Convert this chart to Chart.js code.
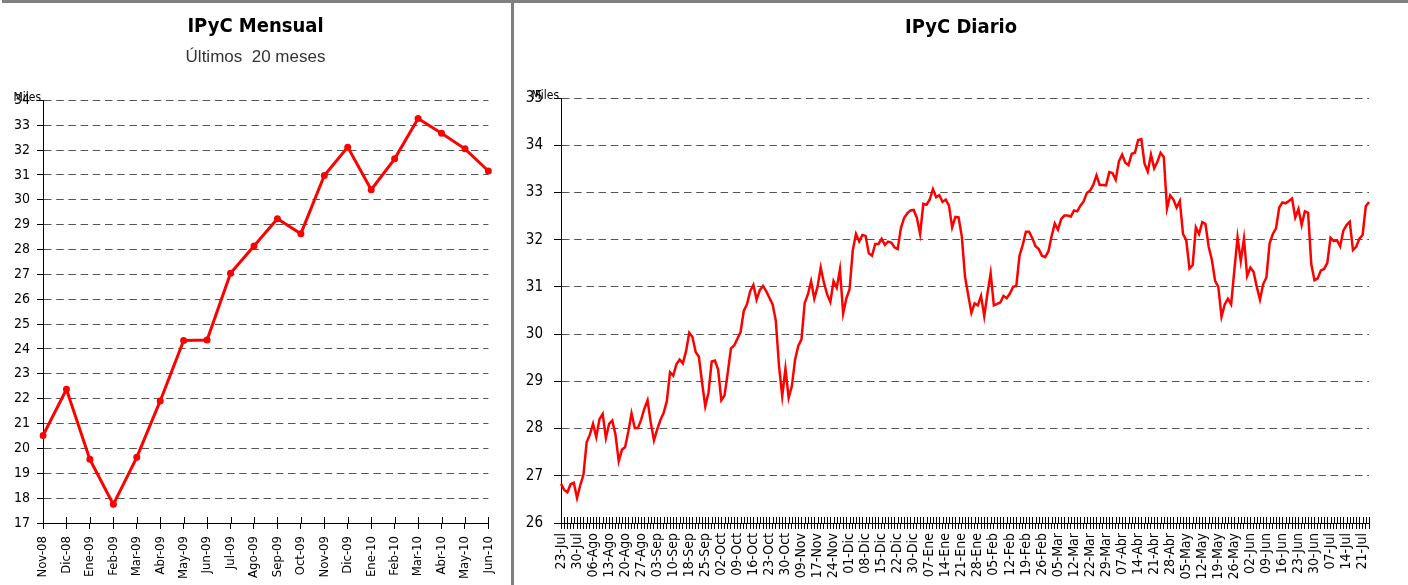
<!DOCTYPE html>
<html>
<head>
<meta charset="utf-8">
<script src="https://cdn.jsdelivr.net/npm/chart.js@4.4.0/dist/chart.umd.min.js"></script>
<style>
  html, body { margin: 0; padding: 0; background: #fff; }
  body { width: 1408px; height: 585px; position: relative; overflow: hidden; }
  #topBar { position: absolute; left: 2px; top: 0; width: 1406px; height: 3px; background: #808080; }
  #divider { position: absolute; left: 511px; top: 0; width: 3px; height: 585px; background: #808080; }
  #leftBox { position: absolute; left: 0; top: 0; width: 511px; height: 585px; }
  #rightBox { position: absolute; left: 514px; top: 0; width: 894px; height: 585px; }
</style>
</head>
<body>
<div id="leftBox"><canvas id="monthly"></canvas></div>
<div id="rightBox"><canvas id="daily"></canvas></div>
<div id="topBar"></div>
<div id="divider"></div>
<script>
// IPyC mensual (miles de puntos), ultimos 20 meses
var monthLabels = ['Nov-08', 'Dic-08', 'Ene-09', 'Feb-09', 'Mar-09', 'Abr-09', 'May-09', 'Jun-09', 'Jul-09', 'Ago-09',
                   'Sep-09', 'Oct-09', 'Nov-09', 'Dic-09', 'Ene-10', 'Feb-10', 'Mar-10', 'Abr-10', 'May-10', 'Jun-10'];
var monthValues = [20.52, 22.38, 19.56, 17.75, 19.64, 21.91, 24.34, 24.36, 27.05, 28.14,
                   29.24, 28.64, 30.98, 32.12, 30.41, 31.65, 33.27, 32.68, 32.05, 31.16];

// IPyC diario: una etiqueta cada 5 dias habiles
var weekLabels = ['23-Jul', '30-Jul', '06-Ago', '13-Ago', '20-Ago', '27-Ago', '03-Sep', '10-Sep', '18-Sep', '25-Sep',
                  '02-Oct', '09-Oct', '16-Oct', '23-Oct', '30-Oct', '09-Nov', '17-Nov', '24-Nov', '01-Dic', '08-Dic',
                  '15-Dic', '22-Dic', '30-Dic', '07-Ene', '14-Ene', '21-Ene', '28-Ene', '05-Feb', '12-Feb', '19-Feb',
                  '26-Feb', '05-Mar', '12-Mar', '22-Mar', '29-Mar', '07-Abr', '14-Abr', '21-Abr', '28-Abr', '05-May',
                  '12-May', '19-May', '26-May', '02-Jun', '09-Jun', '16-Jun', '23-Jun', '30-Jun', '07-Jul', '14-Jul',
                  '21-Jul'];
var dailyValues = [
  26.83, 26.70, 26.65, 26.82, 26.85, 26.53, 26.80, 27.02, 27.71, 27.87,
  28.10, 27.82, 28.20, 28.31, 27.80, 28.10, 28.17, 27.87, 27.31, 27.55,
  27.61, 27.94, 28.32, 28.01, 28.01, 28.19, 28.42, 28.60, 28.12, 27.75,
  27.98, 28.18, 28.33, 28.58, 29.19, 29.12, 29.36, 29.46, 29.38, 29.64,
  30.03, 29.94, 29.62, 29.52, 28.97, 28.47, 28.76, 29.42, 29.44, 29.25,
  28.60, 28.70, 29.18, 29.70, 29.76, 29.90, 30.04, 30.49, 30.63, 30.91,
  31.04, 30.73, 30.93, 31.02, 30.91, 30.77, 30.63, 30.28, 29.32, 28.69,
  29.27, 28.65, 28.90, 29.46, 29.75, 29.89, 30.66, 30.84, 31.12, 30.75,
  31.00, 31.41, 31.09, 30.84, 30.68, 31.12, 30.98, 31.37, 30.44, 30.76,
  30.95, 31.78, 32.12, 31.96, 32.10, 32.08, 31.71, 31.66, 31.91, 31.91,
  32.02, 31.89, 31.96, 31.94, 31.84, 31.80, 32.24, 32.46, 32.56, 32.62,
  32.63, 32.46, 32.12, 32.76, 32.74, 32.85, 33.07, 32.90, 32.94, 32.80,
  32.85, 32.72, 32.26, 32.48, 32.47, 32.07, 31.22, 30.83, 30.45, 30.65,
  30.61, 30.81, 30.38, 30.86, 31.29, 30.61, 30.64, 30.67, 30.81, 30.76,
  30.86, 31.00, 31.02, 31.66, 31.89, 32.17, 32.17, 32.03, 31.86, 31.80,
  31.66, 31.63, 31.75, 32.07, 32.34, 32.21, 32.44, 32.51, 32.51, 32.49,
  32.62, 32.60, 32.72, 32.81, 32.99, 33.04, 33.16, 33.36, 33.16, 33.16,
  33.15, 33.43, 33.41, 33.27, 33.66, 33.80, 33.63, 33.58, 33.82, 33.84,
  34.11, 34.13, 33.61, 33.44, 33.80, 33.51, 33.65, 33.84, 33.75, 32.66,
  32.94, 32.85, 32.68, 32.82, 32.12, 31.99, 31.39, 31.46, 32.26, 32.12,
  32.37, 32.33, 31.85, 31.57, 31.13, 31.00, 30.37, 30.63, 30.75, 30.63,
  31.35, 32.05, 31.55, 32.02, 31.23, 31.41, 31.32, 31.00, 30.73, 31.06,
  31.20, 31.92, 32.12, 32.24, 32.68, 32.79, 32.77, 32.82, 32.87, 32.47,
  32.65, 32.31, 32.60, 32.57, 31.48, 31.14, 31.18, 31.35, 31.38, 31.51,
  32.04, 31.97, 31.99, 31.86, 32.19, 32.31, 32.38, 31.78, 31.85, 32.02,
  32.10, 32.71, 32.80
];

var NARROW = "'DejaVu Sans Condensed', 'Liberation Sans Narrow', sans-serif";

// etiqueta semanal en cada quinto dia, el resto vacio
var dailyLabels = dailyValues.map(function(v, i) {
  return (i % 5 === 0 && weekLabels[i / 5]) ? weekLabels[i / 5] : '';
});

// marcas del eje X que cruzan la linea del eje (hacia arriba)
var crossTicks = {
  id: 'crossTicks',
  beforeDatasetsDraw: function(chart) {
    var sx = chart.scales.x, ctx = chart.ctx;
    ctx.save();
    ctx.strokeStyle = '#000';
    ctx.lineWidth = 1;
    ctx.beginPath();
    for (var i = 0; i < sx.ticks.length; i++) {
      var px = Math.round(sx.getPixelForTick(i)) + 0.5;
      ctx.moveTo(px, sx.top - 6);
      ctx.lineTo(px, sx.top);
    }
    ctx.stroke();
    ctx.restore();
  }
};

var milesLabel = {
  id: 'milesLabel',
  afterDraw: function(chart) {
    var ctx = chart.ctx, a = chart.chartArea;
    ctx.save();
    ctx.font = '12px ' + NARROW;
    ctx.fillStyle = '#000';
    ctx.textAlign = 'right';
    ctx.textBaseline = 'alphabetic';
    ctx.fillText('Miles', a.left - 2, a.top + 1);
    ctx.restore();
  }
};

function spacer(w) {
  return {
    type: 'linear', position: 'right', display: true,
    grid: { display: false }, border: { display: false }, ticks: { display: false },
    afterFit: function(s) { s.width = w; }
  };
}

new Chart(document.getElementById('monthly'), {
  type: 'line',
  data: {
    labels: monthLabels,
    datasets: [{
      data: monthValues,
      borderColor: '#ff0000',
      backgroundColor: '#ff0000',
      borderWidth: 3,
      pointRadius: 3.5,
      pointHoverRadius: 3.5,
      pointBorderWidth: 0,
      pointBackgroundColor: '#ff0000',
      tension: 0
    }]
  },
  options: {
    responsive: true,
    maintainAspectRatio: false,
    animation: false,
    layout: { padding: 0 },
    plugins: {
      legend: { display: false },
      tooltip: { enabled: false },
      title: {
        display: true, text: 'IPyC Mensual', color: '#000',
        font: { family: NARROW, size: 20, weight: 'bold', lineHeight: 1.2 },
        padding: { top: 15, bottom: 0 }
      },
      subtitle: {
        display: true, text: 'Últimos  20 meses', color: '#333',
        font: { family: "'Liberation Sans', sans-serif", size: 17, lineHeight: 1.2 },
        padding: { top: 8, bottom: 33 }
      }
    },
    scales: {
      x: {
        offset: false,
        grid: { display: true, drawOnChartArea: false, tickLength: 6, tickColor: '#000' },
        border: { display: true, color: '#000', width: 1 },
        ticks: { autoSkip: false, minRotation: 90, maxRotation: 90, padding: 7, color: '#000', font: { family: NARROW, size: 13 } },
        afterFit: function(s) { s.height = 62; }
      },
      y: {
        min: 17, max: 34,
        ticks: { stepSize: 1, padding: 7, color: '#000', font: { family: NARROW, size: 14 } },
        grid: { color: '#555', tickColor: '#000', tickLength: 6 },
        border: { display: true, color: '#000', width: 1, dash: [7.5, 4.7] },
        afterFit: function(s) { s.width = 43; }
      },
      pad: spacer(20)
    }
  },
  plugins: [crossTicks, milesLabel]
});

new Chart(document.getElementById('daily'), {
  type: 'line',
  data: {
    labels: dailyLabels,
    datasets: [{
      data: dailyValues,
      borderColor: '#ff0000',
      borderWidth: 2.5,
      pointRadius: 0,
      pointHoverRadius: 0,
      tension: 0
    }]
  },
  options: {
    responsive: true,
    maintainAspectRatio: false,
    animation: false,
    layout: { padding: 0 },
    plugins: {
      legend: { display: false },
      tooltip: { enabled: false },
      title: {
        display: true, text: 'IPyC Diario', color: '#000',
        font: { family: NARROW, size: 20, weight: 'bold', lineHeight: 1.2 },
        padding: { top: 16, bottom: 58 }
      }
    },
    scales: {
      x: {
        offset: false,
        grid: { display: true, drawOnChartArea: false, tickLength: 6, tickColor: '#000' },
        border: { display: true, color: '#000', width: 1 },
        ticks: { autoSkip: false, minRotation: 90, maxRotation: 90, padding: 4, color: '#000', font: { family: NARROW, size: 14 } },
        afterFit: function(s) { s.height = 62; }
      },
      y: {
        min: 26, max: 35,
        ticks: { stepSize: 1, padding: 11, color: '#000', font: { family: NARROW, size: 15 } },
        grid: { color: '#555', tickColor: '#000', tickLength: 7 },
        border: { display: true, color: '#000', width: 1, dash: [7.5, 4.7] },
        afterFit: function(s) { s.width = 47; }
      },
      pad: spacer(39)
    }
  },
  plugins: [crossTicks, milesLabel]
});
</script>
</body>
</html>
